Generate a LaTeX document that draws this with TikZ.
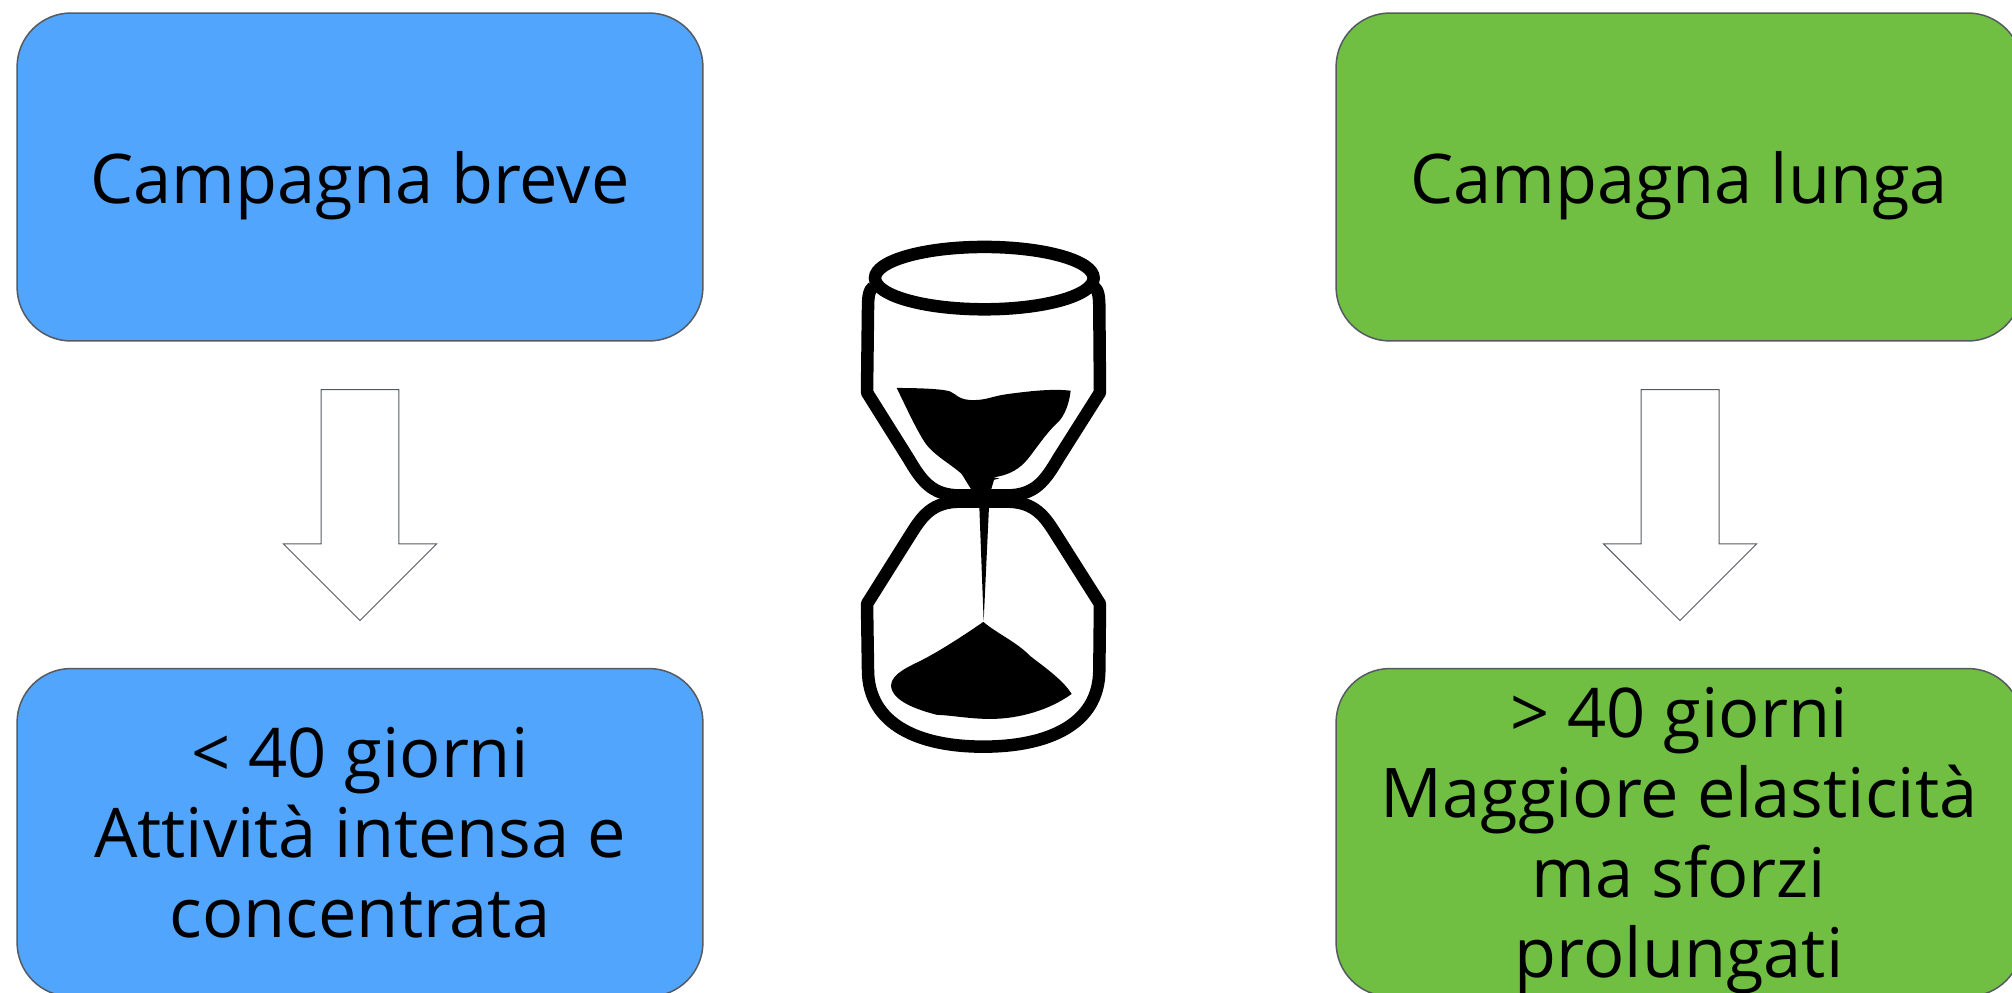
\documentclass[tikz,border=0pt]{standalone}
\usepackage{fontspec}
\setmainfont{Open Sans}
\usetikzlibrary{shapes.arrows}
\definecolor{bluebox}{HTML}{52A5FC}
\definecolor{greenbox}{HTML}{70BF43}
\definecolor{edgegrey}{HTML}{555A60}
\tikzset{
  campaignbox/.style={draw=edgegrey,line width=.03cm,rounded corners=1.08cm,minimum width=13.72cm,minimum height=6.56cm,align=center,text depth=0pt,font=\fontsize{39}{45.6}\selectfont},
  downarrow/.style={single arrow,draw=edgegrey,fill=white,line width=.02cm,shape border rotate=270,minimum height=4.62cm,single arrow head extend=.75cm,inner xsep=.77cm,inner ysep=0pt,outer sep=0pt}
}
\begin{document}
\begin{tikzpicture}[x=.02cm,y=-.02cm]
      \useasboundingbox (0,0) rectangle (2012,993);

      \begin{scope}[every node/.style={campaignbox,fill=bluebox}]
        \node (shorttop) at (360,177) {Campagna breve};
        \node (shortbottom) at (360,832.5) {< 40 giorni\\Attività intensa e\\concentrata};
      \end{scope}

      \begin{scope}[every node/.style={campaignbox,fill=greenbox}]
        \node (longtop) at (1679,177) {Campagna lunga};
        \node (longbottom) at (1679,832.5) {> 40 giorni\\Maggiore elasticità\\ma sforzi\\prolungati};
      \end{scope}

      \node[downarrow] (shortarrow) at (360,485.5) {};
      \node[downarrow] (longarrow) at (1680,485.5) {};

      % hourglass
      \begin{scope}[shift={(820,219.2)},x=.02cm/3,y=-.0208cm/3]
        \draw[line width=.25cm,line join=round]
          (160,195) .. controls (146,205) and (144,225) .. (144,260) -- (141,500) -- (265,690)
          .. controls (305,755) and (335,797) .. (420,797) -- (560,797)
          .. controls (645,797) and (675,755) .. (715,690) -- (840,500) -- (838,260)
          .. controls (838,225) and (836,205) .. (822,195);
        \draw[line width=.25cm,line join=round]
          (420,815) .. controls (335,815) and (305,860) .. (275,905) -- (141,1110) -- (144,1300)
          .. controls (144,1460) and (300,1522) .. (490,1522)
          .. controls (680,1522) and (838,1460) .. (838,1300) -- (840,1110) -- (705,905)
          .. controls (675,860) and (645,815) .. (560,815) -- cycle;
        \draw[line width=.25cm,fill=white] (493,170) ellipse [x radius=328,y radius=90];
        \fill (230,487) .. controls (300,487) and (370,490) .. (390,497)
          .. controls (410,505) and (415,522) .. (460,522)
          .. controls (500,522) and (520,510) .. (560,505)
          .. controls (620,497) and (700,488) .. (752,495)
          .. controls (748,530) and (735,565) .. (715,585)
          .. controls (680,615) and (650,660) .. (625,690)
          .. controls (600,720) and (570,738) .. (520,745) -- (538,748) -- (522,752)
          -- (512,785) -- (507,830) -- (491,1160) -- (478,830) -- (455,782) -- (425,735)
          .. controls (390,705) and (340,680) .. (315,645)
          .. controls (285,600) and (260,545) .. (230,487) -- cycle;
        \fill (490,1162) .. controls (530,1195) and (590,1220) .. (630,1260)
          .. controls (670,1290) and (730,1330) .. (755,1370)
          .. controls (690,1415) and (600,1442) .. (510,1442)
          .. controls (450,1442) and (400,1432) .. (350,1430)
          .. controls (290,1415) and (215,1390) .. (213,1345)
          .. controls (215,1310) and (270,1290) .. (310,1270)
          .. controls (370,1240) and (440,1195) .. (490,1162) -- cycle;
      \end{scope}

    \end{tikzpicture}
\end{document}
